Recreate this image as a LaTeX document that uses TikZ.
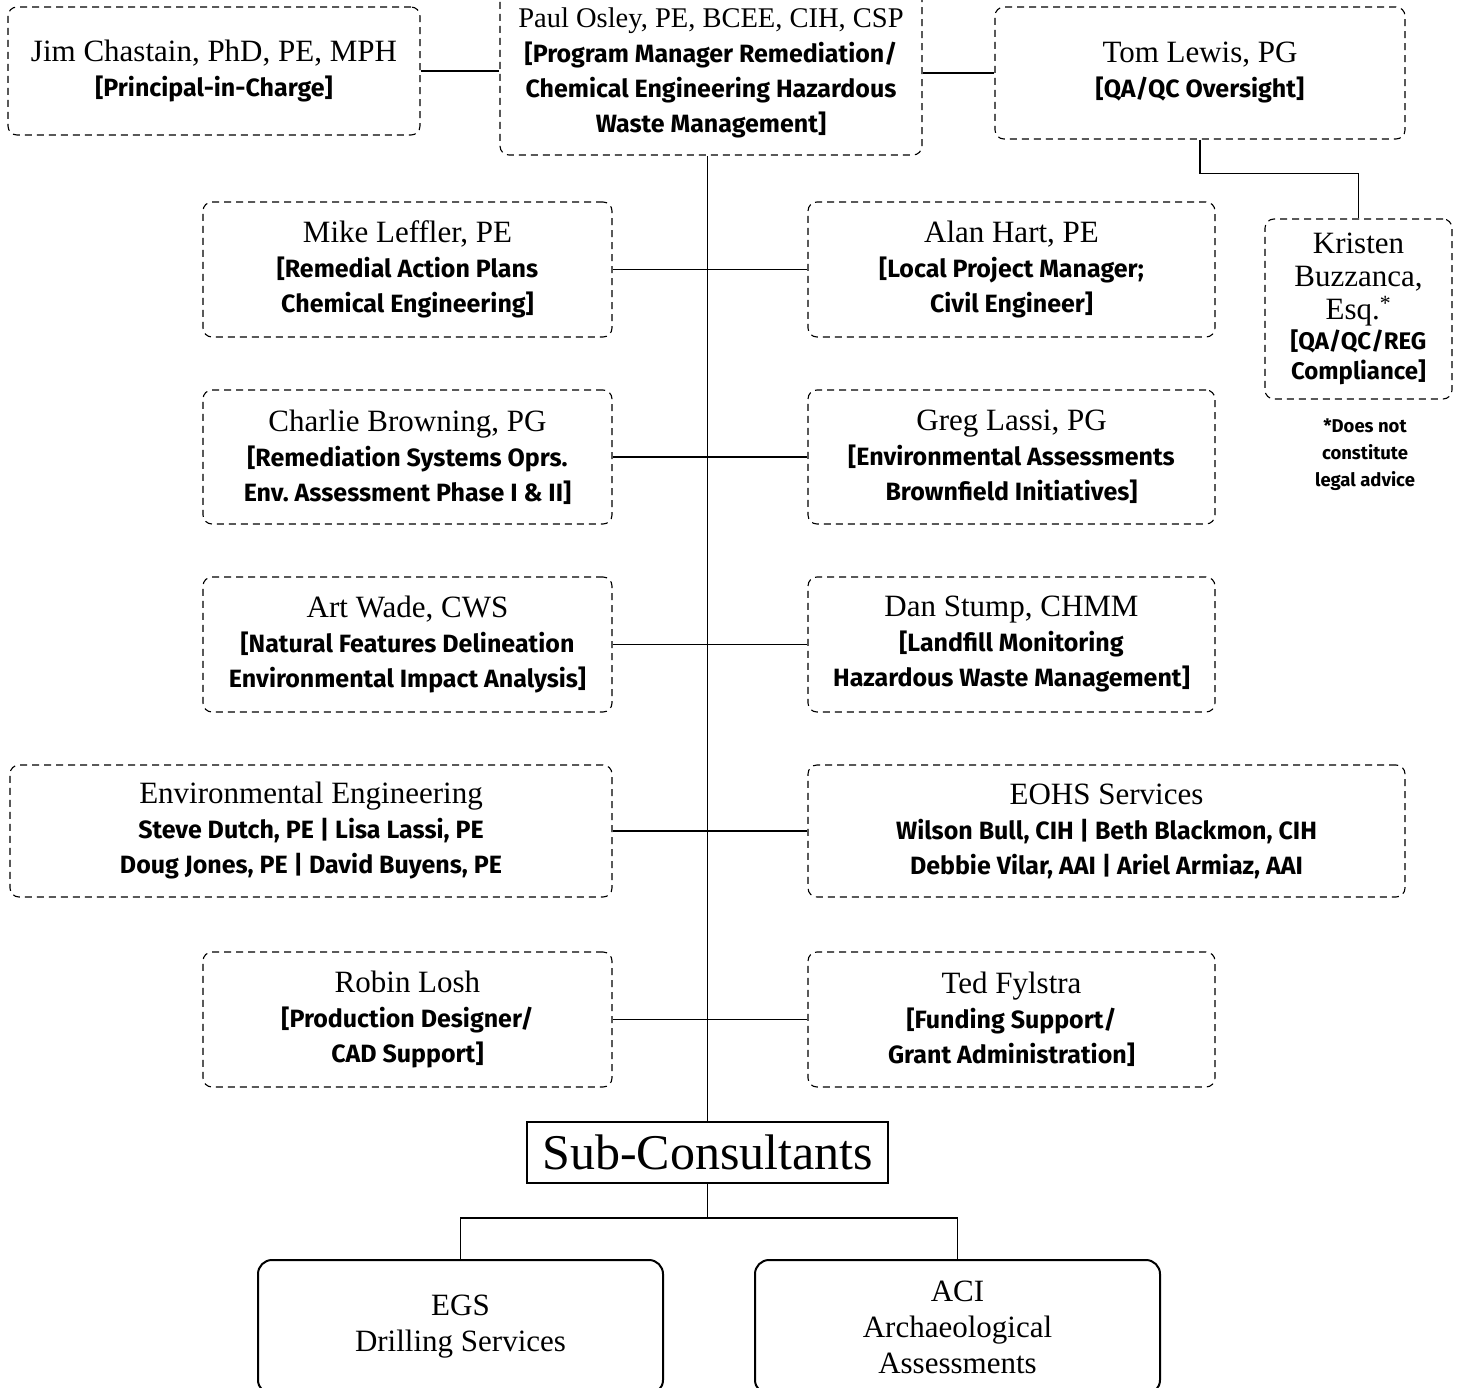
\documentclass[tikz,border=0pt]{standalone}
\usepackage{fontspec}
\usepackage{tikz}
\newfontfamily\namefont{Liberation Serif}
\newfontfamily\rolefont{Fira Sans}
\newcommand{\fixsp}{\spaceskip=\fontdimen2\font\xspaceskip=\fontdimen2\font}
\newcommand{\who}[1]{{\namefont\fontsize{31}{36}\selectfont\fixsp #1\par}}
\newcommand{\what}[1]{{\rolefont\bfseries\fontsize{25}{35}\selectfont\fixsp #1\par}}

\tikzset{
  staffbox/.style={draw, dashed, dash pattern=on 7pt off 5pt, line width=1.1pt,
    rounded corners=9pt, align=center, inner sep=0pt},
  subbox/.style={draw, line width=1.3pt, inner sep=0pt},
  firmbox/.style={draw, line width=2pt, rounded corners=14pt, align=center, inner sep=0pt},
  link/.style={line width=1.4pt}
}

\begin{document}
\begin{tikzpicture}[x=1pt, y=-1pt]
  \useasboundingbox (0,0) rectangle (1459,1388);
  \clip (0,0) rectangle (1459,1388);

  % top row
  \node[staffbox, minimum width=412pt, minimum height=128pt, text width=405pt] (jim) at (214,71)
    {\who{Jim Chastain, PhD, PE, MPH}\what{[Principal-in-Charge]}};
  \node[staffbox, minimum width=422pt, minimum height=164pt, text width=418pt] (paul) at (711,73)
    {{\namefont\fontsize{28.5}{36}\selectfont\fixsp Paul Osley, PE, BCEE, CIH, CSP\par}%
     \what{[Program Manager Remediation/\\Chemical Engineering Hazardous\\Waste Management]}};
  \node[staffbox, minimum width=410pt, minimum height=132pt, text width=400pt] (tom) at (1200,73)
    {\who{Tom Lewis, PG}\what{[QA/QC Oversight]}};
  \node[staffbox, minimum width=187pt, minimum height=180pt, text width=184pt] (kristen) at (1358.5,309)
    {{\namefont\fontsize{31}{33}\selectfont\fixsp Kristen\\Buzzanca,\\Esq.\textsuperscript{*}\par}%
     {\rolefont\bfseries\fontsize{24}{30}\selectfont\fixsp [QA/QC/REG\\Compliance]\par}};
  \node[align=center, inner sep=0pt, text width=160pt] (note) at (1365,455)
    {\rolefont\bfseries\fontsize{18.5}{27}\selectfont\fixsp *Does not\\constitute\\legal advice\par};

  % staff rows
  \node[staffbox, minimum width=409pt, minimum height=135pt, text width=405pt] (mike) at (407.5,269.5)
    {\who{Mike Leffler, PE}\what{[Remedial Action Plans\\Chemical Engineering]}};
  \node[staffbox, minimum width=407pt, minimum height=135pt, text width=400pt] (alan) at (1011.5,269.5)
    {\who{Alan Hart, PE}\what{[Local Project Manager;\\Civil Engineer]}};
  \node[staffbox, minimum width=409pt, minimum height=134pt, text width=405pt] (charlie) at (407.5,457)
    {\who{Charlie Browning, PG}\what{[Remediation Systems Oprs.\\Env. Assessment Phase I \& II]}};
  \node[staffbox, minimum width=407pt, minimum height=134pt, text width=400pt] (greg) at (1011.5,457)
    {\who{Greg Lassi, PG}\what{[Environmental Assessments\\Brownfield Initiatives]}};
  \node[staffbox, minimum width=409pt, minimum height=135pt, text width=405pt] (art) at (407.5,644.5)
    {\who{Art Wade, CWS}\what{[Natural Features Delineation\\Environmental Impact Analysis]}};
  \node[staffbox, minimum width=407pt, minimum height=135pt, text width=400pt] (dan) at (1011.5,644.5)
    {\who{Dan Stump, CHMM}\what{[Landfill Monitoring\\Hazardous Waste Management]}};
  \node[staffbox, minimum width=602pt, minimum height=132pt, text width=590pt] (enveng) at (311,831)
    {\who{Environmental Engineering}\what{Steve Dutch, PE | Lisa Lassi, PE\\Doug Jones, PE | David Buyens, PE}};
  \node[staffbox, minimum width=597pt, minimum height=132pt, text width=590pt] (eohs) at (1106.5,831)
    {\who{EOHS Services}\what{Wilson Bull, CIH | Beth Blackmon, CIH\\Debbie Vilar, AAI | Ariel Armiaz, AAI}};
  \node[staffbox, minimum width=409pt, minimum height=135pt, text width=405pt] (robin) at (407.5,1019.5)
    {\who{Robin Losh}\what{[Production Designer/\\CAD Support]}};
  \node[staffbox, minimum width=407pt, minimum height=135pt, text width=400pt] (ted) at (1011.5,1019.5)
    {\who{Ted Fylstra}\what{[Funding Support/\\Grant Administration]}};

  % sub-consultants
  \node[subbox, minimum width=361pt, minimum height=61pt] (sub) at (707.5,1152.5)
    {\namefont\fontsize{50}{54}\selectfont Sub-Consultants};
  \node[firmbox, minimum width=405pt, minimum height=134pt, text width=395pt] (egs) at (460.5,1327)
    {\who{EGS\\Drilling Services}};
  \node[firmbox, minimum width=405pt, minimum height=134pt, text width=395pt] (aci) at (957.5,1327)
    {\who{ACI\\Archaeological\\Assessments}};
  \coordinate (split) at (707.5,1218);

  % connectors
  \draw[link] (jim.east) -- (jim.east -| paul.west);
  \draw[link] (tom.west) -- (tom.west -| paul.east);
  \draw[link] (tom.south) -- ++(0,34) -| (kristen.north);
  \draw[link] (sub.north) -- (sub.north |- paul.south);
  \draw[link] (mike.east) -- (alan.west);
  \draw[link] (charlie.east) -- (greg.west);
  \draw[link] (art.east) -- (dan.west);
  \draw[link] (enveng.east) -- (eohs.west);
  \draw[link] (robin.east) -- (ted.west);
  \draw[link] (sub.south) -- (split) -| (egs.north);
  \draw[link] (split) -| (aci.north);
\end{tikzpicture}
\end{document}
